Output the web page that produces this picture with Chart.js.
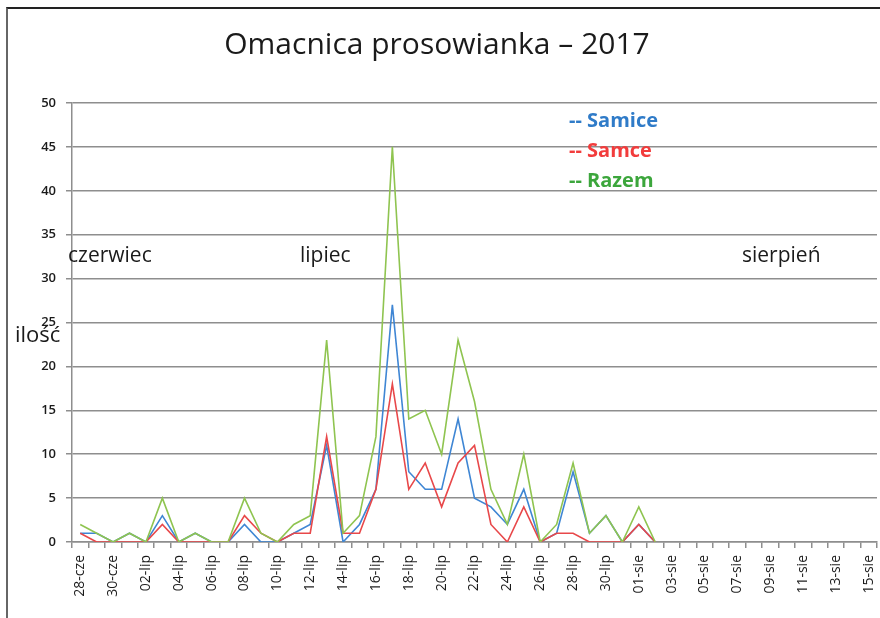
<!DOCTYPE html>
<html>
<head>
<meta charset="utf-8">
<title>Omacnica prosowianka – 2017</title>
<script src="https://cdn.jsdelivr.net/npm/chart.js@4/dist/chart.umd.min.js"></script>
<style>
  html, body { margin: 0; padding: 0; background: #fff; }
  #wrap { position: relative; width: 880px; height: 618px; overflow: hidden; }
  #frame {
    position: absolute; left: 6px; top: 7px; width: 900px; height: 640px;
    border-top: 2px solid #222; border-left: 2px solid #666; pointer-events: none;
  }
</style>
</head>
<body>
<div id="wrap">
  <canvas id="chart" width="880" height="618"></canvas>
  <div id="frame"></div>
</div>
<script>
// days 28-cze .. 15-sie
const days = [
  "28-cze", "29-cze", "30-cze",
  "01-lip", "02-lip", "03-lip", "04-lip", "05-lip", "06-lip", "07-lip", "08-lip", "09-lip", "10-lip",
  "11-lip", "12-lip", "13-lip", "14-lip", "15-lip", "16-lip", "17-lip", "18-lip", "19-lip", "20-lip",
  "21-lip", "22-lip", "23-lip", "24-lip", "25-lip", "26-lip", "27-lip", "28-lip", "29-lip", "30-lip", "31-lip",
  "01-sie", "02-sie", "03-sie", "04-sie", "05-sie", "06-sie", "07-sie", "08-sie", "09-sie", "10-sie",
  "11-sie", "12-sie", "13-sie", "14-sie", "15-sie"
];

// catches per day (no data after 02-sie)
const samice = [1, 1, 0, 1, 0, 3, 0, 1, 0, 0, 2, 0, 0, 1, 2, 11, 0, 2, 6, 27, 8, 6, 6, 14, 5, 4, 2, 6, 0, 1, 8, 1, 3, 0, 2, 0];
const samce  = [1, 0, 0, 0, 0, 2, 0, 0, 0, 0, 3, 1, 0, 1, 1, 12, 1, 1, 6, 18, 6, 9, 4, 9, 11, 2, 0, 4, 0, 1, 1, 0, 0, 0, 2, 0];
const razem  = [2, 1, 0, 1, 0, 5, 0, 1, 0, 0, 5, 1, 0, 2, 3, 23, 1, 3, 12, 45, 14, 15, 10, 23, 16, 6, 2, 10, 0, 2, 9, 1, 3, 0, 4, 0];

const yTicks = [0, 5, 10, 15, 20, 25, 30, 35, 40, 45, 50];

const months = [
  { text: "czerwiec", x: 68 },
  { text: "lipiec", x: 300 },
  { text: "sierpień", x: 742 }
];

const seriesNames = ["Samice", "Samce", "Razem"];
const lineColors = ["#3f86d4", "#e8484a", "#8fc450"];
const legendColors = ["#2f7bc8", "#f23c3c", "#3ca63c"];

const gridGray = "#8e8e8e";

// title, month names, axis name and the text legend
const extraText = {
  id: "extraText",
  afterDraw(chart) {
    const ctx = chart.ctx;
    ctx.save();
    ctx.textBaseline = "middle";
    ctx.textAlign = "center";
    ctx.fillStyle = "#1a1a1a";
    ctx.font = "30px 'Open Sans'";
    ctx.fillText("Omacnica prosowianka – 2017", 437, 45);

    ctx.textAlign = "left";
    ctx.font = "21px 'Open Sans'";
    months.forEach(m => ctx.fillText(m.text, m.x, 256));
    ctx.font = "22px 'Open Sans'";
    ctx.fillText("ilość", 15, 336);

    ctx.font = "bold 20px 'Open Sans'";
    seriesNames.forEach((name, i) => {
      ctx.fillStyle = legendColors[i];
      ctx.fillText("-- " + name, 569, 121 + i * 30);
    });
    ctx.restore();
  }
};

new Chart(document.getElementById("chart"), {
  type: "line",
  data: {
    labels: days,
    datasets: [
      { label: seriesNames[0], data: samice, borderColor: lineColors[0], order: 2 },
      { label: seriesNames[1], data: samce, borderColor: lineColors[1], order: 1 },
      { label: seriesNames[2], data: razem, borderColor: lineColors[2], order: 0 }
    ]
  },
  options: {
    responsive: false,
    animation: false,
    layout: { padding: { left: 0, right: 3, top: 103, bottom: 0 } },
    elements: {
      line: { borderWidth: 1.6, tension: 0, fill: false },
      point: { radius: 0, hoverRadius: 0 }
    },
    plugins: {
      legend: { display: false },
      title: { display: false },
      tooltip: { enabled: false }
    },
    scales: {
      x: {
        offset: true,
        afterFit: s => { s.height = 76; s.paddingLeft = 0; s.paddingRight = 0; },
        grid: {
          offset: true,
          drawOnChartArea: false,
          drawTicks: true,
          tickLength: 6,
          color: gridGray,
          lineWidth: 1.5
        },
        border: { color: gridGray, width: 1.5 },
        ticks: {
          autoSkip: false,
          minRotation: 90,
          maxRotation: 90,
          padding: 7,
          color: "#1a1a1a",
          font: { family: "'Open Sans'", size: 14 },
          callback: (v, i) => (i % 2 === 0 ? days[i] : "")
        }
      },
      y: {
        min: 0,
        max: 50,
        afterFit: s => { s.width = 72; },
        afterBuildTicks: s => { s.ticks = yTicks.map(v => ({ value: v })); },
        grid: {
          color: gridGray,
          lineWidth: 1.5,
          tickLength: 6
        },
        border: { color: gridGray, width: 1.5 },
        ticks: {
          padding: 10,
          color: "#1a1a1a",
          font: { family: "'Open Sans'", size: 13, weight: "600" }
        }
      }
    }
  },
  plugins: [extraText]
});
</script>
</body>
</html>
